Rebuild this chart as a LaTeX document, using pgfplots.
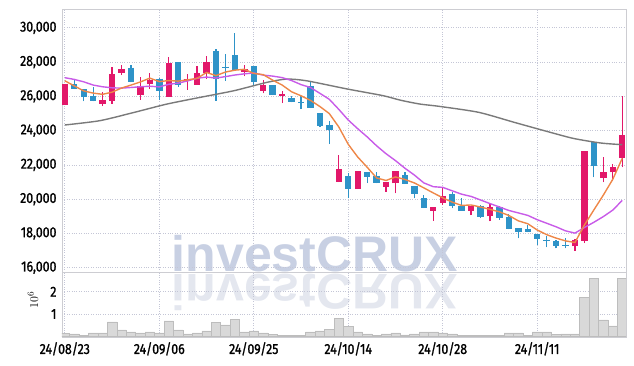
\documentclass[border=0pt]{standalone}
\usepackage{fontspec}
\setmainfont{Fira Sans}[FakeStretch=0.85]
\newfontfamily\tkfamily{Fira Sans}[FakeStretch=0.85, FakeBold=1.2]
\newfontfamily\wmfont{Liberation Sans}
\usepackage{pgfplots}
\pgfplotsset{compat=1.18}
\definecolor{upc}{HTML}{E2186A}
\definecolor{dnc}{HTML}{2E93C8}
\definecolor{ma5}{HTML}{EE8748}
\definecolor{ma10}{HTML}{C85BE8}
\definecolor{ma60}{HTML}{7A7A7A}
\definecolor{gridc}{HTML}{C4C6D6}
\definecolor{framec}{HTML}{CDCDD2}
\definecolor{volfill}{HTML}{D9D9D9}
\definecolor{voledge}{HTML}{BDBDBD}
\definecolor{wm}{HTML}{C8D0E3}
\definecolor{wmr}{HTML}{E4E7EF}
\newcommand{\tkf}{\tkfamily\fontsize{14.5pt}{16pt}\selectfont}
\begin{document}
\begin{tikzpicture}
\path[use as bounding box] (0pt,0pt) rectangle (634pt,366pt);
% watermark
\node[anchor=base, inner sep=0pt, text=wm] at (315pt,94pt) {\wmfont\bfseries\fontsize{50pt}{50pt}\selectfont investCRUX};
\node[anchor=base, inner sep=0pt, text=wmr, yscale=-1] at (315pt,91pt) {\wmfont\bfseries\fontsize{50pt}{50pt}\selectfont investCRUX};
% price panel
\begin{axis}[
  at={(62pt,94pt)}, anchor=south west,
  width=564pt, height=263pt, scale only axis,
  xmin=-0.3, xmax=59.4, ymin=15750, ymax=31100,
  xtick={0,10,20,30,40,50}, xticklabels={},
  ytick={16000,18000,20000,22000,24000,26000,28000,30000},
  scaled y ticks=false,
  /pgf/number format/assume math mode=true,
  /pgf/number format/1000 sep={,},
  yticklabel style={font=\tkf, xshift=-2pt},
  grid=major, major grid style={gridc, dotted, line width=0.8pt},
  axis line style={framec, line width=0.8pt},
  major tick length=0pt,
  unbounded coords=jump,
]
% red wicks
\addplot[upc, line width=1.2pt, mark=none] coordinates {
(4,25430)(4,26250)(4,nan)(5,25560)(5,27710)(5,nan)(6,27240)(6,27810)(6,nan)
(8,25810)(8,27140)(8,nan)(9,26440)(9,27390)(9,nan)(11,25950)(11,28310)(11,nan)
(13,26400)(13,27300)(13,nan)(14,26680)(14,27750)(14,nan)(15,27010)(15,28330)(15,nan)
(19,27160)(19,27830)(19,nan)(21,26170)(21,26970)(21,nan)(23,25600)(23,26330)(23,nan)
(29,20990)(29,22570)(29,nan)(31,20590)(31,21620)(31,nan)(34,20440)(34,21020)(34,nan)
(35,20340)(35,21620)(35,nan)(39,18750)(39,19540)(39,nan)(40,19660)(40,20630)(40,nan)
(43,19070)(43,19620)(43,nan)(45,18710)(45,19770)(45,nan)(54,16990)(54,17650)(54,nan)
(55,17440)(55,22790)(55,nan)(57,20980)(57,22440)(57,nan)(58,21080)(58,22050)(58,nan)
(59,21860)(59,26030)};
% red bodies
\addplot[upc, line width=6.4pt, mark=none] coordinates {
(0,25520)(0,26700)(0,nan)(4,25560)(4,25810)(4,nan)(5,25750)(5,27330)(5,nan)
(6,27390)(6,27620)(6,nan)(8,26060)(8,26630)(8,nan)(9,26700)(9,26930)(9,nan)
(11,25980)(11,27940)(11,nan)(13,26870)(13,27000)(13,nan)(14,26680)(14,27370)(14,nan)
(15,27370)(15,28020)(15,nan)(19,27430)(19,27620)(19,nan)(21,26330)(21,26660)(21,nan)
(23,26030)(23,26130)(23,nan)(29,21020)(29,21760)(29,nan)(31,20590)(31,21620)(31,nan)
(34,20730)(34,21020)(34,nan)(35,20920)(35,21620)(35,nan)(39,19330)(39,19540)(39,nan)
(40,19760)(40,20200)(40,nan)(43,19330)(43,19620)(43,nan)(45,19000)(45,19520)(45,nan)
(54,17250)(54,17630)(54,nan)(55,17580)(55,22790)(55,nan)(57,21230)(57,21570)(57,nan)
(58,21570)(58,21860)(58,nan)(59,22400)(59,23740)};
% blue wicks
\addplot[dnc, line width=1.2pt, mark=none] coordinates {
(1,26420)(1,27010)(1,nan)(2,25710)(2,26420)(2,nan)(3,25710)(3,26570)(3,nan)
(7,26820)(7,27810)(7,nan)(10,25780)(10,27050)(10,nan)(12,26550)(12,28000)(12,nan)
(16,25750)(16,28760)(16,nan)(17,26910)(17,28470)(17,nan)(18,27560)(18,29680)(18,nan)
(20,26580)(20,27780)(20,nan)(22,26080)(22,26660)(22,nan)(24,25650)(24,26030)(24,nan)
(25,25260)(25,26030)(25,nan)(26,25320)(26,26820)(26,nan)(27,24200)(27,25050)(27,nan)
(28,23220)(28,24580)(28,nan)(30,20050)(30,21520)(30,nan)(32,20940)(32,21600)(32,nan)
(33,20920)(33,21570)(33,nan)(36,20880)(36,21560)(36,nan)(37,20050)(37,20780)(37,nan)
(38,19480)(38,20260)(38,nan)(41,19470)(41,20400)(41,nan)(42,19330)(42,20050)(42,nan)
(44,18900)(44,19660)(44,nan)(46,18800)(46,19620)(46,nan)(47,18240)(47,19130)(47,nan)
(48,17710)(48,18330)(48,nan)(49,18060)(49,18490)(49,nan)(50,17340)(50,17970)(50,nan)
(51,17190)(51,17830)(51,nan)(52,17130)(52,17600)(52,nan)(53,17130)(53,17710)(53,nan)
(56,21270)(56,23350)};
% blue bodies
\addplot[dnc, line width=6.4pt, mark=none] coordinates {
(1,26720)(1,26420)(1,nan)(2,26420)(2,25960)(2,nan)(3,26040)(3,25710)(3,nan)
(7,27680)(7,26820)(7,nan)(10,27030)(10,26300)(10,nan)(12,27990)(12,26650)(12,nan)
(16,28660)(16,27020)(16,nan)(17,27740)(17,27660)(17,nan)(18,28410)(18,27560)(18,nan)
(20,27750)(20,26820)(20,nan)(22,26660)(22,26080)(22,nan)(24,25880)(24,25650)(24,nan)
(25,25700)(25,25620)(25,nan)(26,26580)(26,25320)(26,nan)(27,25030)(27,24290)(27,nan)
(28,24330)(28,24050)(28,nan)(30,21330)(30,20590)(30,nan)(32,21600)(32,21310)(32,nan)
(33,21370)(33,20920)(33,nan)(36,21410)(36,20880)(36,nan)(37,20780)(37,20300)(37,nan)
(38,20050)(38,19480)(38,nan)(41,20300)(41,19620)(41,nan)(42,19580)(42,19330)(42,nan)
(44,19620)(44,18940)(44,nan)(46,19520)(46,18900)(46,nan)(47,18980)(47,18260)(47,nan)
(48,18330)(48,18060)(48,nan)(49,18260)(49,18100)(49,nan)(50,17970)(50,17680)(50,nan)
(51,17640)(51,17550)(51,nan)(52,17580)(52,17250)(52,nan)(53,17330)(53,17240)(53,nan)
(56,23350)(56,21950)};
% MA60 (gray)
\addplot[ma60, line width=1.4pt, mark=none, smooth, tension=0.4] coordinates {
(0,24330)(3.7,24580)(7.3,25060)(10.8,25550)(14.3,25940)(17.9,26330)(21.4,26820)
(23.5,27010)(25.6,26910)(29.9,26430)(33.7,26040)(35.5,25780)(37.6,25550)(39.6,25420)
(43.8,25070)(47.6,24480)(50.8,23990)(53.8,23550)(56.7,23280)(59,23180)};
% MA10 (purple)
\addplot[ma10, line width=1.4pt, mark=none] coordinates {
(0,27090)(1,26990)(2,26850)(3,26660)(4,26560)(5,26500)(6,26480)(7,26520)(8,26560)(9,26593)
(10,26553)(11,26705)(12,26774)(13,26903)(14,27059)(15,27128)(16,27068)(17,27154)(18,27247)(19,27316)
(20,27368)(21,27240)(22,27183)(23,27096)(24,26924)(25,26687)(26,26517)(27,26178)(28,25827)(29,25241)
(30,24618)(31,24114)(32,23637)(33,23116)(34,22653)(35,22250)(36,21806)(37,21407)(38,20950)(39,20728)
(40,20689)(41,20489)(42,20291)(43,20161)(44,19953)(45,19743)(46,19545)(47,19341)(48,19199)(49,19055)
(50,18803)(51,18596)(52,18388)(53,18151)(54,18020)(55,18347)(56,18652)(57,18983)(58,19363)(59,19927)};
% MA5 (orange)
\addplot[ma5, line width=1.4pt, mark=none] coordinates {
(0,26910)(1,26610)(2,26320)(3,26190)(4,26120)(5,26246)(6,26486)(7,26658)(8,26842)(9,27066)
(10,26860)(11,26924)(12,26890)(13,26964)(14,27052)(15,27396)(16,27212)(17,27418)(18,27530)(19,27580)
(20,27340)(21,27268)(22,26948)(23,26662)(24,26268)(25,26034)(26,25766)(27,25408)(28,24992)(29,24214)
(30,23202)(31,22462)(32,21866)(33,21240)(34,21092)(35,21298)(36,21150)(37,20948)(38,20660)(39,20364)
(40,20080)(41,19828)(42,19634)(43,19662)(44,19542)(45,19406)(46,19262)(47,19048)(48,18736)(49,18568)
(50,18200)(51,17930)(52,17728)(53,17566)(54,17472)(55,18494)(56,19374)(57,20238)(58,21160)(59,22382)};
\end{axis}
% volume panel
\begin{axis}[
  at={(62pt,28.3pt)}, anchor=south west,
  width=564pt, height=65pt, scale only axis,
  xmin=-0.3, xmax=59.4, ymin=-60000, ymax=2855000,
  xtick={0,10,20,30,40,50},
  xticklabels={24/08/23,24/09/06,24/09/25,24/10/14,24/10/28,24/11/11},
  ytick={1000000,2000000}, yticklabels={1,2},
  scaled y ticks=false,
  xticklabel style={font=\tkf, yshift=-1pt},
  yticklabel style={font=\tkf, xshift=-2pt},
  grid=major, major grid style={gridc, dotted, line width=0.8pt},
  axis line style={framec, line width=0.8pt},
  major tick length=0pt,
]
\addplot[ybar, bar width=1, bar shift=0pt, fill=volfill, draw=voledge, line width=0.5pt] coordinates {
(0,140000)(1,110000)(2,50000)(3,160000)(4,160000)(5,650000)(6,290000)(7,200000)(8,160000)(9,200000)
(10,160000)(11,700000)(12,290000)(13,110000)(14,160000)(15,250000)(16,640000)(17,520000)(18,770000)(19,200000)
(20,250000)(21,160000)(22,100000)(23,50000)(24,50000)(25,50000)(26,200000)(27,250000)(28,330000)(29,820000)
(30,460000)(31,200000)(32,110000)(33,50000)(34,110000)(35,160000)(36,70000)(37,110000)(38,200000)(39,200000)
(40,160000)(41,110000)(42,30000)(43,50000)(44,50000)(45,50000)(46,50000)(47,160000)(48,160000)(49,50000)
(50,200000)(51,200000)(52,100000)(53,110000)(54,110000)(55,1760000)(56,2610000)(57,740000)(58,470000)(59,2610000)};
\end{axis}
\node[rotate=90, inner sep=0pt] at (33pt,66pt) {\fontsize{13pt}{14pt}\selectfont$10^{6}$};
\end{tikzpicture}
\end{document}
